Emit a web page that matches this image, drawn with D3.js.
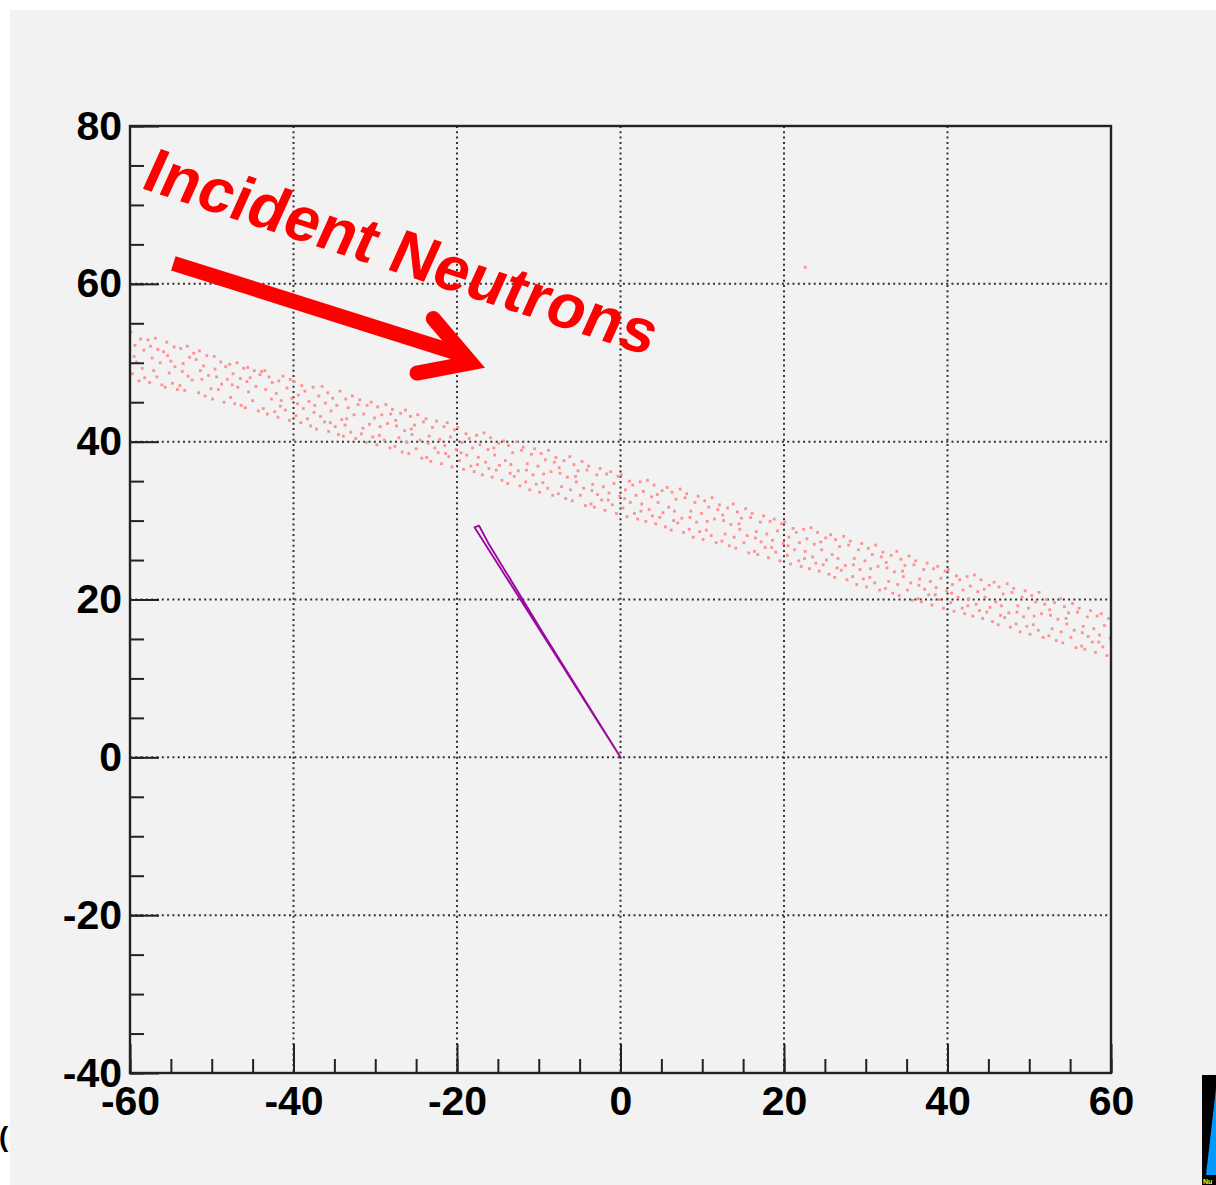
<!DOCTYPE html>
<html>
<head>
<meta charset="utf-8">
<script src="https://cdn.jsdelivr.net/npm/d3@7"></script>
<style>
  html, body { margin: 0; padding: 0; background: #ffffff; }
  svg { display: block; }
</style>
</head>
<body>
<svg id="chart" width="1216" height="1185"></svg>
<script>
// ---- data ----
const xMajorTicks = [-60, -40, -20, 0, 20, 40, 60];
const yMajorTicks = [-40, -20, 0, 20, 40, 60, 80];
const xMinorTicks = d3.range(-60, 61, 5);
const yMinorTicks = d3.range(-40, 81, 5);
const xGrid = [-40, -20, 0, 20, 40];
const yGrid = [-20, 0, 20, 40, 60];

// scattered neutron hits (x, y)
const neutronHits = [
[-59.9,53.9],[-59.7,48.6],[-59.4,52.2],[-59.2,50.1],[-58.9,47.7],[-58.7,53.0],[-58.5,49.3],[-58.3,51.6],[-58.2,48.1],[-59.5,50.8],
[-57.8,52.9],[-57.6,47.5],[-57.3,50.6],[-57.1,49.0],[-56.9,53.1],[-56.7,48.2],[-56.6,51.7],[-56.3,50.0],[-56.1,47.2],[-57.5,52.1],
[-55.9,51.4],[-55.7,46.9],[-55.5,52.6],[-55.2,48.7],[-55.0,50.2],[-54.8,47.4],[-54.6,52.0],[-54.5,49.5],[-54.2,46.6],[-55.4,50.9],
[-53.9,47.1],[-53.8,51.8],[-53.5,49.9],[-53.3,46.5],[-53.0,52.1],[-52.9,48.3],[-52.7,50.7],[-52.4,47.8],[-52.2,51.2],[-53.6,48.9],
[-51.9,50.4],[-51.6,46.2],[-51.5,51.5],[-51.2,47.9],[-51.0,49.6],[-50.8,45.8],[-50.6,50.9],[-50.4,48.4],[-50.1,46.7],[-51.4,49.0],
[-49.9,45.4],[-49.7,50.8],[-49.4,48.2],[-49.2,46.6],[-48.9,50.1],[-48.8,47.3],[-48.5,45.0],[-48.3,49.5],[-48.1,47.9],[-49.6,49.2],
[-47.8,49.8],[-47.7,45.6],[-47.4,48.6],[-47.2,44.8],[-46.9,50.0],[-46.8,46.9],[-46.5,48.0],[-46.4,44.6],[-46.1,49.3],[-47.5,47.2],
[-45.9,44.3],[-45.6,49.4],[-45.5,46.3],[-45.3,48.1],[-45.0,45.2],[-44.8,49.0],[-44.6,47.0],[-44.3,43.9],[-44.1,48.5],[-45.7,47.6],
[-43.9,48.9],[-43.7,44.2],[-43.4,46.6],[-43.2,43.5],[-43.0,48.2],[-42.7,45.4],[-42.6,47.5],[-42.3,43.8],[-42.1,46.1],[-43.5,49.0],
[-41.9,43.1],[-41.8,47.7],[-41.5,45.2],[-41.3,48.3],[-41.0,44.0],[-40.8,46.8],[-40.5,42.7],[-40.4,47.9],[-40.2,45.5],[-41.6,44.5],
[-39.9,47.6],[-39.7,43.3],[-39.4,45.9],[-39.1,42.4],[-39.0,47.1],[-38.8,44.2],[-38.6,46.4],[-38.3,42.9],[-38.1,45.1],[-39.5,44.8],
[-37.9,42.0],[-37.6,46.9],[-37.4,44.6],[-37.2,41.6],[-36.9,45.8],[-36.7,43.2],[-36.5,47.0],[-36.2,42.5],[-36.1,44.9],[-37.5,43.7],
[-35.8,46.2],[-35.7,41.3],[-35.4,43.9],[-35.2,45.5],[-34.9,41.9],[-34.7,44.6],[-34.5,40.9],[-34.3,46.4],[-34.1,42.8],[-35.5,42.4],
[-33.9,40.7],[-33.6,45.4],[-33.5,42.9],[-33.3,44.3],[-33.0,41.2],[-32.8,45.8],[-32.6,43.4],[-32.4,40.4],[-32.1,44.7],[-33.7,42.1],
[-31.9,45.3],[-31.7,41.0],[-31.4,43.5],[-31.1,39.9],[-31.0,44.6],[-30.7,42.2],[-30.5,45.0],[-30.3,40.6],[-30.1,43.0],[-31.5,41.7],
[-29.8,39.6],[-29.7,44.4],[-29.4,41.9],[-29.2,43.4],[-28.9,40.2],[-28.7,44.7],[-28.5,42.3],[-28.2,39.2],[-28.1,43.5],[-29.5,40.8],
[-27.9,44.1],[-27.6,39.4],[-27.4,42.0],[-27.1,40.5],[-26.9,43.6],[-26.7,38.7],[-26.4,41.4],[-26.3,44.0],[-26.1,39.9],[-27.5,42.7],
[-25.9,38.5],[-25.7,43.2],[-25.5,40.9],[-25.2,42.1],[-25.0,39.1],[-24.8,43.4],[-24.5,40.2],[-24.3,37.9],[-24.1,42.5],[-25.6,41.6],
[-23.8,42.9],[-23.7,38.0],[-23.4,40.7],[-23.2,37.5],[-23.0,41.8],[-22.7,39.2],[-22.5,42.6],[-22.3,38.6],[-22.1,40.3],[-23.5,39.8],
[-21.9,37.2],[-21.6,41.9],[-21.5,39.5],[-21.2,42.4],[-21.0,38.1],[-20.8,40.6],[-20.6,36.8],[-20.3,41.5],[-20.1,39.0],[-21.4,38.5],
[-19.9,41.8],[-19.7,37.6],[-19.4,39.9],[-19.2,36.5],[-18.9,41.0],[-18.8,38.3],[-18.5,40.4],[-18.3,36.9],[-18.1,39.2],[-19.5,38.6],
[-17.9,36.2],[-17.6,40.8],[-17.4,38.0],[-17.2,39.6],[-16.9,35.8],[-16.7,41.1],[-16.5,37.4],[-16.2,39.0],[-16.1,36.6],[-17.5,37.1],
[-15.9,40.5],[-15.7,35.5],[-15.4,38.3],[-15.2,36.4],[-14.9,39.8],[-14.8,37.0],[-14.5,35.1],[-14.3,40.1],[-14.1,37.6],[-15.5,39.2],
[-13.8,34.7],[-13.7,39.5],[-13.4,37.1],[-13.2,38.6],[-13.0,35.6],[-12.7,40.0],[-12.5,36.3],[-12.3,34.4],[-12.1,38.9],[-13.5,36.0],
[-11.9,39.3],[-11.6,34.9],[-11.4,37.2],[-11.1,33.9],[-10.9,38.4],[-10.7,35.8],[-10.5,39.1],[-10.3,34.6],[-10.1,36.9],[-11.5,36.4],
[-9.9,33.6],[-9.7,38.5],[-9.4,35.9],[-9.2,37.7],[-8.9,34.1],[-8.8,38.9],[-8.5,36.2],[-8.3,33.2],[-8.1,37.4],[-9.5,34.8],
[-7.9,38.0],[-7.6,33.4],[-7.4,36.0],[-7.2,34.3],[-6.9,37.6],[-6.7,32.8],[-6.5,35.5],[-6.2,38.1],[-6.1,33.9],[-7.5,36.7],
[-5.9,32.5],[-5.7,37.1],[-5.4,34.9],[-5.2,36.3],[-4.9,33.2],[-4.7,37.5],[-4.5,34.1],[-4.3,31.9],[-4.1,36.4],[-5.5,35.6],
[-3.9,36.9],[-3.6,32.1],[-3.4,34.6],[-3.2,31.7],[-2.9,35.8],[-2.8,33.3],[-2.5,36.6],[-2.3,32.6],[-2.1,34.3],[-3.5,33.8],
[-1.9,31.3],[-1.7,35.9],[-1.4,33.5],[-1.2,36.2],[-1.0,32.0],[-0.8,34.7],[-0.5,30.9],[-0.3,35.6],[-0.1,33.1],[-1.5,32.6],
[0.1,35.8],[0.3,31.6],[0.6,33.9],[0.8,30.5],[1.1,35.0],[1.2,32.3],[1.5,34.5],[1.7,30.9],[1.9,33.2],[0.5,32.8],
[2.1,30.2],[2.4,34.9],[2.6,32.1],[2.8,33.7],[3.1,29.9],[3.3,35.1],[3.5,31.4],[3.8,33.0],[3.9,30.6],[2.5,31.2],
[4.1,34.5],[4.3,29.6],[4.6,32.3],[4.8,30.4],[5.1,33.8],[5.2,31.0],[5.5,29.2],[5.7,34.2],[5.9,31.7],[4.5,33.3],
[6.2,28.8],[6.3,33.6],[6.6,31.2],[6.8,32.7],[7.0,29.7],[7.3,34.0],[7.5,30.3],[7.7,28.5],[7.9,32.9],[6.5,30.0],
[8.1,33.4],[8.4,28.9],[8.6,31.2],[8.9,27.9],[9.1,32.3],[9.3,29.8],[9.5,33.1],[9.7,28.6],[9.9,30.9],[8.5,30.4],
[10.1,27.6],[10.3,32.5],[10.6,29.9],[10.8,31.7],[11.1,28.1],[11.2,32.9],[11.5,30.2],[11.7,27.2],[11.9,31.4],[10.5,28.8],
[12.1,32.0],[12.4,27.4],[12.6,30.0],[12.8,28.3],[13.1,31.6],[13.3,26.8],[13.5,29.5],[13.8,32.1],[13.9,27.9],[12.5,30.7],
[14.1,26.5],[14.3,31.1],[14.6,28.9],[14.8,30.3],[15.1,27.2],[15.3,31.5],[15.5,28.1],[15.7,25.9],[15.9,30.4],[14.5,29.6],
[16.1,30.9],[16.4,26.1],[16.6,28.6],[16.8,25.7],[17.1,29.8],[17.2,27.3],[17.5,30.6],[17.7,26.6],[17.9,28.3],[16.5,27.8],
[18.1,25.3],[18.3,29.9],[18.6,27.5],[18.8,30.2],[19.0,26.0],[19.2,28.7],[19.5,24.9],[19.7,29.6],[19.9,27.1],[18.5,26.6],
[20.1,29.8],[20.4,25.6],[20.6,27.9],[20.8,24.5],[21.1,29.0],[21.3,26.3],[21.5,28.5],[21.8,24.9],[21.9,27.2],[20.5,26.8],
[22.1,24.2],[22.4,28.9],[22.6,26.1],[22.8,27.7],[23.1,23.9],[23.3,29.1],[23.5,25.4],[23.7,27.0],[23.9,24.6],[22.5,25.2],
[24.1,28.5],[24.3,23.6],[24.6,26.3],[24.8,24.4],[25.1,27.8],[25.2,25.0],[25.5,23.2],[25.7,28.2],[25.9,25.7],[24.5,27.3],
[26.2,22.8],[26.3,27.6],[26.6,25.2],[26.8,26.7],[27.0,23.7],[27.3,28.0],[27.5,24.3],[27.7,22.5],[27.9,26.9],[26.5,24.0],
[28.1,27.4],[28.4,22.9],[28.6,25.2],[28.9,21.9],[29.1,26.3],[29.3,23.8],[29.5,27.1],[29.7,22.6],[29.9,24.9],[28.5,24.4],
[30.1,21.6],[30.3,26.5],[30.6,23.9],[30.8,25.7],[31.1,22.1],[31.2,26.9],[31.5,24.2],[31.7,21.2],[31.9,25.4],[30.5,22.8],
[32.1,26.0],[32.4,21.4],[32.6,24.0],[32.8,22.3],[33.1,25.6],[33.3,20.8],[33.5,23.5],[33.8,26.1],[33.9,21.9],[32.5,24.7],
[34.1,20.5],[34.3,25.1],[34.6,22.9],[34.8,24.3],[35.1,21.2],[35.3,25.5],[35.5,22.1],[35.7,19.9],[35.9,24.4],[34.5,23.6],
[36.1,24.9],[36.4,20.1],[36.6,22.6],[36.8,19.7],[37.1,23.8],[37.2,21.3],[37.5,24.6],[37.7,20.6],[37.9,22.3],[36.5,21.8],
[38.1,19.3],[38.3,23.9],[38.6,21.5],[38.8,24.2],[39.0,20.0],[39.2,22.7],[39.5,18.9],[39.7,23.6],[39.9,21.1],[38.5,20.6],
[40.1,23.8],[40.4,19.6],[40.6,21.9],[40.8,18.5],[41.1,23.0],[41.3,20.3],[41.5,22.5],[41.8,18.9],[41.9,21.2],[40.5,20.8],
[42.1,18.2],[42.4,22.9],[42.6,20.1],[42.8,21.7],[43.1,17.9],[43.3,23.1],[43.5,19.4],[43.7,21.0],[43.9,18.6],[42.5,19.2],
[44.1,22.5],[44.3,17.6],[44.6,20.3],[44.8,18.4],[45.1,21.8],[45.2,19.0],[45.5,17.2],[45.7,22.2],[45.9,19.7],[44.5,21.3],
[46.2,16.8],[46.3,21.6],[46.6,19.2],[46.8,20.7],[47.0,17.7],[47.3,22.0],[47.5,18.3],[47.7,16.5],[47.9,20.9],[46.5,18.0],
[48.1,21.4],[48.4,16.9],[48.6,19.2],[48.9,15.9],[49.1,20.3],[49.3,17.8],[49.5,21.1],[49.7,16.6],[49.9,18.9],[48.5,18.4],
[50.1,15.6],[50.3,20.5],[50.6,17.9],[50.8,19.7],[51.1,16.1],[51.2,20.9],[51.5,18.2],[51.7,15.2],[51.9,19.4],[50.5,16.8],
[52.1,20.0],[52.4,15.4],[52.6,18.0],[52.8,16.3],[53.1,19.6],[53.3,14.8],[53.5,17.5],[53.8,20.1],[53.9,15.9],[52.5,18.7],
[54.1,14.5],[54.3,19.1],[54.6,16.9],[54.8,18.3],[55.1,15.2],[55.3,19.5],[55.5,16.1],[55.7,13.9],[55.9,18.4],[54.5,17.6],
[56.1,18.9],[56.4,14.1],[56.6,16.6],[56.8,13.7],[57.1,17.8],[57.2,15.3],[57.5,18.6],[57.7,14.6],[57.9,16.3],[56.5,15.8],
[58.1,13.3],[58.3,17.9],[58.6,15.5],[58.8,18.2],[59.0,14.0],[59.2,16.7],[59.5,12.9],[59.7,17.6],[59.9,15.1],[58.5,14.6],
[22.6,62.1]
];

// recoil track outline (x, y)
const recoilTrack = [[0,0],[-17.86,29.15],[-17.3,29.35],[-16.2,27.2],[-9.5,15.8],[0,0]];

// annotation arrow (data coords)
const arrowShaft = [[-54.7,62.6],[-19.6,51.1]];
const arrowHead = [[-22.9,55.6],[-18.3,50.0],[-24.9,48.7]];
const labelText = "Incident Neutrons";
const labelPos = [-58.9,72.2];

// ---- drawing ----
const W = 1216, H = 1185;
const svg = d3.select("#chart");
const pL = 130, pR = 1111, pT = 126, pB = 1073;

svg.append("rect").attr("x", 0).attr("y", 0).attr("width", W).attr("height", H).attr("fill", "#ffffff");
svg.append("rect").attr("x", 10).attr("y", 10).attr("width", W - 10).attr("height", H - 10).attr("fill", "#f2f2f2");

const x = d3.scaleLinear().domain([-60, 60]).range([pL, pR]);
const y = d3.scaleLinear().domain([-40, 80]).range([pB, pT]);

// grid
const grid = svg.append("g");
grid.selectAll("line.gx").data(xGrid).join("line").attr("class", "gx")
  .attr("x1", d => x(d)).attr("x2", d => x(d)).attr("y1", pT).attr("y2", pB)
  .attr("stroke", "#333").attr("stroke-width", 2).attr("stroke-dasharray", "2,3.3");
grid.selectAll("line.gy").data(yGrid).join("line").attr("class", "gy")
  .attr("y1", d => y(d)).attr("y2", d => y(d)).attr("x1", pL).attr("x2", pR)
  .attr("stroke", "#333").attr("stroke-width", 2).attr("stroke-dasharray", "2,3.3");

// neutron hits
svg.append("g").selectAll("rect").data(neutronHits).join("rect")
  .attr("x", d => x(d[0]) - 1.4).attr("y", d => y(d[1]) - 1.4)
  .attr("width", 2.8).attr("height", 2.8)
  .attr("fill", "#ff9090");

// recoil track
svg.append("path")
  .attr("d", d3.line().x(d => x(d[0])).y(d => y(d[1]))(recoilTrack))
  .attr("fill", "none").attr("stroke", "#9a0aa0").attr("stroke-width", 1.9)
  .attr("stroke-linejoin", "round");

// axes
const font = "'Liberation Sans', Arial, Helvetica, sans-serif";
function styleAxis(g) {
  g.select(".domain").remove();
  g.selectAll(".tick line").attr("stroke", "#222").attr("stroke-width", 2);
  g.selectAll(".tick text").attr("fill", "#000").attr("font-family", font)
    .attr("font-weight", "bold").attr("font-size", 41);
}
svg.append("g").attr("transform", `translate(${pL},0)`)
  .call(d3.axisLeft(y).tickValues(yMinorTicks).tickSize(-14).tickFormat(""))
  .call(styleAxis);
svg.append("g").attr("transform", `translate(${pL},0)`)
  .call(d3.axisLeft(y).tickValues(yMajorTicks).tickSize(-29).tickPadding(8).tickFormat(d => String(d)))
  .call(styleAxis);
svg.append("g").attr("transform", `translate(0,${pB})`)
  .call(d3.axisBottom(x).tickValues(xMinorTicks).tickSize(-14).tickFormat(""))
  .call(styleAxis);
svg.append("g").attr("transform", `translate(0,${pB})`)
  .call(d3.axisBottom(x).tickValues(xMajorTicks).tickSize(-29).tickPadding(13).tickFormat(d => String(d)))
  .call(styleAxis);

// frame
svg.append("rect").attr("x", pL).attr("y", pT).attr("width", pR - pL).attr("height", pB - pT)
  .attr("fill", "none").attr("stroke", "#222").attr("stroke-width", 2.4);

// annotation
svg.append("line")
  .attr("x1", x(arrowShaft[0][0])).attr("y1", y(arrowShaft[0][1]))
  .attr("x2", x(arrowShaft[1][0])).attr("y2", y(arrowShaft[1][1]))
  .attr("stroke", "#ff0000").attr("stroke-width", 15).attr("stroke-linecap", "butt");
svg.append("path")
  .attr("d", d3.line().x(d => x(d[0])).y(d => y(d[1]))(arrowHead))
  .attr("fill", "none").attr("stroke", "#ff0000").attr("stroke-width", 15)
  .attr("stroke-linecap", "round").attr("stroke-linejoin", "miter").attr("stroke-miterlimit", 10);
svg.append("text")
  .attr("transform", `translate(${x(labelPos[0])},${y(labelPos[1])}) rotate(18.3) skewX(-6)`)
  .attr("fill", "#ff0000").attr("font-family", font).attr("font-weight", "bold").attr("font-size", 63)
  .text(labelText);

// cut-off decorations at the canvas edges
svg.append("text").attr("x", -1).attr("y", 1146).attr("font-family", font).attr("font-size", 28)
  .attr("font-weight", "bold").attr("fill", "#000").text("(");
svg.append("rect").attr("x", 1202).attr("y", 1075).attr("width", 14).attr("height", 110).attr("fill", "#000");
svg.append("polygon").attr("points", "1206,1175 1216,1175 1216,1088").attr("fill", "#0099ff");
svg.append("text").attr("x", 1203).attr("y", 1184).attr("font-family", font).attr("font-size", 7)
  .attr("font-weight", "bold").attr("fill", "#ffff00").text("Nu");
</script>
</body>
</html>
